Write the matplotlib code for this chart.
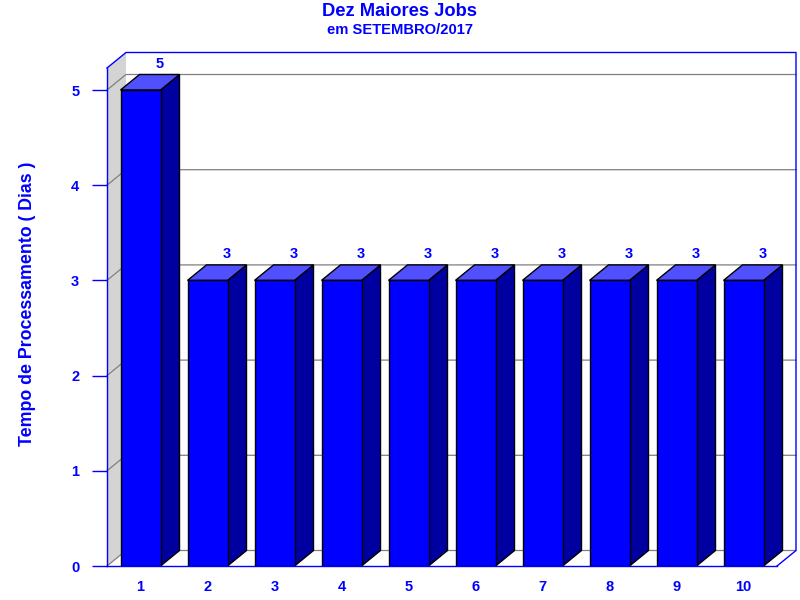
import matplotlib
matplotlib.use("Agg")
import matplotlib.pyplot as plt
from matplotlib.patches import Polygon
from matplotlib.lines import Line2D
from matplotlib.transforms import IdentityTransform

plt.rcParams['font.family'] = ['Liberation Sans', 'DejaVu Sans']

categories = ['1', '2', '3', '4', '5', '6', '7', '8', '9', '10']
values = [5, 3, 3, 3, 3, 3, 3, 3, 3, 3]
yticks = [0, 1, 2, 3, 4, 5]
title = 'Dez Maiores Jobs'
subtitle = 'em SETEMBRO/2017'
ylabel = 'Tempo de Processamento ( Dias )'

BLUE = '#0000FF'
FRONT = '#0000FF'
SIDE = '#0000A0'
TOP = '#5050FF'
WALL = '#D4D4D4'
GRID = '#808080'
DX, DY = 19, 15.5
W, H = 800, 600

fig = plt.figure(figsize=(8, 6), dpi=100)
ax = fig.add_axes([107 / W, 34 / H, 670 / W, 498 / H])
x = list(range(1, len(categories) + 1))
ymax = 498 / 95.2
ax.set_xlim(0.5, len(categories) + 0.5)
ax.set_ylim(0, ymax)
ax.patch.set_alpha(0)

for s in ['top', 'right']:
    ax.spines[s].set_visible(False)
for s in ['left', 'bottom']:
    ax.spines[s].set_color(BLUE)
    ax.spines[s].set_linewidth(1)
    ax.spines[s].set_zorder(6)

ax.set_yticks(yticks)
ax.set_yticklabels([str(t) for t in yticks])
ax.set_xticks(x)
ax.set_xticklabels(categories)
ax.tick_params(axis='y', direction='out', length=10.5, width=1, color=BLUE,
               labelcolor=BLUE, pad=9.5, labelsize=10.5)
ax.tick_params(axis='x', length=0, labelcolor=BLUE, pad=10, labelsize=10.5)
for lab in ax.get_xticklabels() + ax.get_yticklabels():
    lab.set_fontweight('bold')

fig.canvas.draw()
T = ax.transData.transform
x0, x1 = ax.get_xlim()
ID = IdentityTransform()

def disp(px, py, off=False):
    a, b = T((px, py))
    if off:
        a += DX
        b += DY
    return (a, b)

def add_poly(pts, **kw):
    ax.add_patch(Polygon(pts, closed=True, transform=ID, clip_on=False, **kw))

def add_line(pts, **kw):
    ax.add_line(Line2D([p[0] for p in pts], [p[1] for p in pts], transform=ID,
                       clip_on=False, **kw))

# left wall
add_poly([disp(x0, 0), disp(x0, ymax), disp(x0, ymax, True), disp(x0, 0, True)],
         facecolor=WALL, edgecolor='none', zorder=0.5)
# back grid lines and wall diagonals
for t in yticks:
    add_line([disp(x0, t), disp(x0, t, True), disp(x1, t, True)],
             color=GRID, lw=0.9, zorder=1)
# frame
add_line([disp(x0, ymax), disp(x0, ymax, True), disp(x1, ymax, True),
          disp(x1, 0, True), disp(x1, 0)], color=BLUE, lw=1, zorder=1.5)

# bars
bw = 40 / 67
ax.bar(x, values, width=bw, color=FRONT, edgecolor='black', linewidth=1, zorder=3)
for xi, v in zip(x, values):
    l, r = xi - bw / 2, xi + bw / 2
    add_poly([disp(r, 0), disp(r, v), disp(r, v, True), disp(r, 0, True)],
             facecolor=SIDE, edgecolor='black', lw=1, zorder=2)
    add_poly([disp(l, v), disp(r, v), disp(r, v, True), disp(l, v, True)],
             facecolor=TOP, edgecolor='black', lw=1, zorder=2)
    px, py = disp(xi, v, True)
    fig.text(px / W, (py + 4) / H, str(v), ha='center', va='bottom', color=BLUE,
             fontsize=10.5, fontweight='bold')

fig.text(400 / W, 1 - 11 / H, title, ha='center', va='center', color=BLUE,
         fontsize=13.2, fontweight='bold')
fig.text(400 / W, 1 - 30 / H, subtitle, ha='center', va='center', color=BLUE,
         fontsize=10.6, fontweight='bold')
fig.text(28 / W, 1 - 304 / H, ylabel, ha='center', va='center', rotation=90,
         color=BLUE, fontsize=12.8, fontweight='bold')

fig.savefig('out.png', dpi=100)
